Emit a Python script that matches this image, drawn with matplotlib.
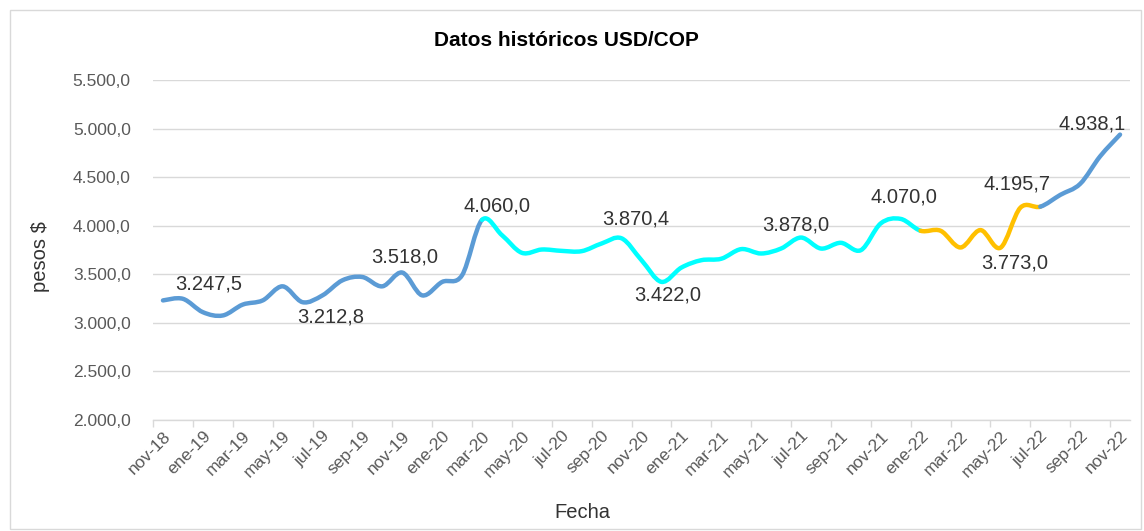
import numpy as np
import matplotlib
matplotlib.use("Agg")
import matplotlib.pyplot as plt
from matplotlib.path import Path
from matplotlib.patches import PathPatch, Rectangle

plt.rcParams['font.family'] = ['Liberation Sans', 'DejaVu Sans']

# monthly USD/COP, nov-18 .. nov-22
meses = ['nov-18', 'dic-18', 'ene-19', 'feb-19', 'mar-19', 'abr-19', 'may-19', 'jun-19',
         'jul-19', 'ago-19', 'sep-19', 'oct-19', 'nov-19', 'dic-19', 'ene-20', 'feb-20',
         'mar-20', 'abr-20', 'may-20', 'jun-20', 'jul-20', 'ago-20', 'sep-20', 'oct-20',
         'nov-20', 'dic-20', 'ene-21', 'feb-21', 'mar-21', 'abr-21', 'may-21', 'jun-21',
         'jul-21', 'ago-21', 'sep-21', 'oct-21', 'nov-21', 'dic-21', 'ene-22', 'feb-22',
         'mar-22', 'abr-22', 'may-22', 'jun-22', 'jul-22', 'ago-22', 'sep-22', 'oct-22',
         'nov-22']
usd_cop = [3231, 3247.5, 3110, 3076, 3188, 3231, 3376, 3212.8,
           3283, 3438, 3472, 3376, 3518.0, 3283, 3421, 3490,
           4060.0, 3903, 3721, 3755, 3741, 3738, 3817, 3870.4,
           3645, 3422.0, 3569, 3645, 3660, 3759, 3714, 3765,
           3878.0, 3765, 3824, 3748, 4024, 4070.0, 3948, 3948,
           3776, 3955, 3773.0, 4185, 4195.7, 4317, 4431, 4714,
           4938.1]

# colour ranges (start index, end index, colour)
tramos = [(0, 16, '#5B9BD5'), (16, 38, '#00FFFF'), (38, 44, '#FFC000'), (44, 48, '#5B9BD5')]

# labelled points and label offsets in pixels
etiquetas = [1, 7, 12, 16, 23, 25, 32, 37, 42, 44, 48]
offsets = [(26, 15), (28, -15), (2, 16), (15, 14), (14, 19), (6, -13),
           (-5, 13), (3, 22), (14, -15), (-23, 23), (-28, 11)]


def fmt_es(v):
    s = f"{v:,.1f}"
    return s.replace(',', 'X').replace('.', ',').replace('X', '.')


fig = plt.figure(figsize=(11.44, 5.31), dpi=100)
ax = fig.add_axes([153 / 1144, 111 / 531, 977 / 1144, 340 / 531])

x = np.arange(len(usd_cop))
y = np.array(usd_cop, dtype=float)
n = len(y)


def smooth_path(a, b):
    # bezier segments like excel's smoothed line
    verts = [(x[a], y[a])]
    codes = [Path.MOVETO]
    for i in range(a, b):
        p0 = np.array([x[max(i - 1, 0)], y[max(i - 1, 0)]])
        p1 = np.array([x[i], y[i]])
        p2 = np.array([x[i + 1], y[i + 1]])
        p3 = np.array([x[min(i + 2, n - 1)], y[min(i + 2, n - 1)]])
        c1 = p1 + (p2 - p0) / 6
        c2 = p2 - (p3 - p1) / 6
        verts += [tuple(c1), tuple(c2), tuple(p2)]
        codes += [Path.CURVE4] * 3
    return Path(verts, codes)


for a, b, c in tramos:
    ax.add_patch(PathPatch(smooth_path(a, b), facecolor='none', edgecolor=c,
                           lw=3.2, capstyle='round', joinstyle='round', zorder=3))

for i, (dx, dy) in zip(etiquetas, offsets):
    ax.annotate(fmt_es(usd_cop[i]), (x[i], y[i]), xytext=(dx, dy),
                textcoords='offset pixels', ha='center', va='center',
                fontsize=14.5, color='#333333', zorder=4)

ax.set_xlim(-0.5, n - 0.5)
ax.set_ylim(2000, 5500)
ax.set_yticks(np.arange(2000, 5501, 500))
ax.set_yticklabels([fmt_es(v) for v in np.arange(2000, 5501, 500)])
ax.set_xticks(x[::2])
ax.set_xticklabels(meses[::2], rotation=45, ha='right', va='top', rotation_mode='anchor')
ax.set_xticks(np.arange(-0.5, n, 2), minor=True)

ax.grid(axis='y', color='#D9D9D9', lw=1)
ax.set_axisbelow(True)
for s in ['top', 'right', 'left']:
    ax.spines[s].set_visible(False)
ax.spines['bottom'].set_color('#D9D9D9')
ax.spines['bottom'].set_linewidth(1)
ax.tick_params(axis='y', length=0, pad=16, labelsize=12.5, labelcolor='#595959')
ax.tick_params(axis='x', which='major', length=0, pad=6, labelsize=12.5, labelcolor='#595959')
ax.tick_params(axis='x', which='minor', length=5, color='#D9D9D9', width=1)

fig.text(566 / 1144, 1 - 40 / 531, 'Datos históricos USD/COP', ha='center', va='center',
         fontsize=15, fontweight='bold', color='black')
fig.text(40 / 1144, 1 - 257 / 531, 'pesos $', rotation=90, ha='center', va='center',
         fontsize=14.5, color='#333333')
fig.text(582 / 1144, 1 - 513 / 531, 'Fecha', ha='center', va='center',
         fontsize=14.5, color='#333333')

# chart area border
fig.patches.append(Rectangle((10 / 1144, 2 / 531), 1131 / 1144, 519 / 531,
                             transform=fig.transFigure, fill=False,
                             edgecolor='#D9D9D9', lw=1))

fig.savefig('out.png', dpi=100)
